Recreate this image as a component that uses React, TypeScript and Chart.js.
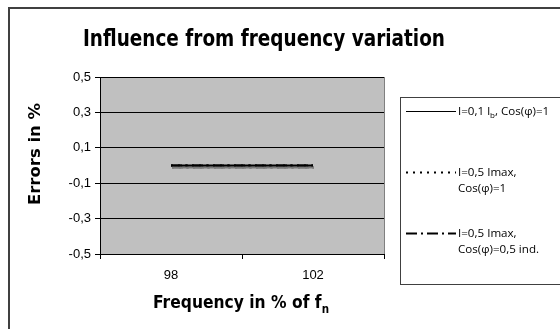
import React, { useEffect, useRef } from 'react';
import { Chart, registerables } from 'chart.js';
Chart.register(...registerables);

const categories = ['98', '102'];
const seriesA = [0, 0];
const seriesB = [0, 0];
const seriesC = [0, 0];
const seriesLabels = [
  ['I=0,1 l_b, Cos(φ)=1'],
  ['I=0,5 Imax,', 'Cos(φ)=1'],
  ['I=0,5 Imax,', 'Cos(φ)=0,5 ind.'],
];
const yTicks = [-0.5, -0.3, -0.1, 0.1, 0.3, 0.5];
const titleText = 'Influence from frequency variation';
const xTitleText = 'Frequency in % of f_n';
const yTitleText = 'Errors in %';

type Seg = { t: string; sub: boolean };
function parse(s: string): Seg[] {
  const out: Seg[] = [];
  let buf = '';
  for (let i = 0; i < s.length; i++) {
    if (s[i] === '_' && i + 1 < s.length) {
      if (buf) out.push({ t: buf, sub: false });
      buf = '';
      out.push({ t: s[i + 1], sub: true });
      i++;
    } else buf += s[i];
  }
  if (buf) out.push({ t: buf, sub: false });
  return out;
}

function measure(ctx: CanvasRenderingContext2D, segs: Seg[], font: string, subFont: string) {
  let w = 0;
  for (const s of segs) {
    ctx.font = s.sub ? subFont : font;
    w += ctx.measureText(s.t).width;
  }
  return w;
}

function drawRich(
  ctx: CanvasRenderingContext2D,
  text: string,
  x: number,
  y: number,
  size: number,
  weight: string,
  family: string,
  align: 'left' | 'center',
  targetWidth?: number,
  subDrop = 4
) {
  const segs = parse(text);
  const font = `${weight} ${size}px ${family}`;
  const subFont = `${weight} ${Math.round(size * 0.65)}px ${family}`;
  const w = measure(ctx, segs, font, subFont);
  const sx = targetWidth ? targetWidth / w : 1;
  ctx.save();
  ctx.translate(x, y);
  ctx.scale(sx, 1);
  ctx.textBaseline = 'alphabetic';
  ctx.textAlign = 'left';
  ctx.fillStyle = '#000';
  let cx = align === 'center' ? -w / 2 : 0;
  for (const s of segs) {
    ctx.font = s.sub ? subFont : font;
    ctx.fillText(s.t, cx, s.sub ? subDrop : 0);
    cx += ctx.measureText(s.t).width;
  }
  ctx.restore();
}

const dashes = [[], [2, 5], [11, 4, 2, 4]];

const decorPlugin = {
  id: 'decor',
  beforeDraw(chart: any) {
    const { ctx, chartArea: a } = chart;
    ctx.save();
    ctx.fillStyle = '#fff';
    ctx.fillRect(0, 0, chart.width, chart.height);
    ctx.fillStyle = '#C0C0C0';
    ctx.fillRect(a.left, a.top, a.right - a.left, a.bottom - a.top);
    ctx.strokeStyle = '#808080';
    ctx.lineWidth = 1;
    ctx.beginPath();
    ctx.moveTo(a.right + 0.5, a.top);
    ctx.lineTo(a.right + 0.5, a.bottom);
    ctx.stroke();
    ctx.restore();
  },
  beforeDatasetsDraw(chart: any) {
    const ctx = chart.ctx;
    ctx.save();
    ctx.shadowColor = '#7a7a7a';
    ctx.shadowOffsetX = 1;
    ctx.shadowOffsetY = 2;
    ctx.shadowBlur = 0;
  },
  afterDatasetsDraw(chart: any) {
    chart.ctx.restore();
  },
  afterDraw(chart: any) {
    const { ctx } = chart;
    ctx.save();
    // outer frame
    ctx.strokeStyle = '#404040';
    ctx.lineWidth = 2;
    ctx.strokeRect(9, 8, 600, 400);
    // titles
    drawRich(ctx, titleText, 264, 46, 23, 'bold', '"DejaVu Sans"', 'center', 362);
    drawRich(ctx, xTitleText, 241, 308, 18, 'bold', '"DejaVu Sans"', 'center', 176, 5);
    ctx.save();
    ctx.translate(40, 154);
    ctx.rotate(-Math.PI / 2);
    drawRich(ctx, yTitleText, 0, 0, 16, 'bold', '"DejaVu Sans"', 'center', 102);
    ctx.restore();
    // legend
    ctx.strokeStyle = '#404040';
    ctx.lineWidth = 1;
    ctx.strokeRect(400.5, 97.5, 200, 187);
    const rows = [111, 172, 233];
    chart.data.datasets.forEach((ds: any, i: number) => {
      const y = rows[i];
      ctx.save();
      ctx.strokeStyle = '#000';
      ctx.lineWidth = i === 0 ? 1 : 2;
      ctx.setLineDash(dashes[i]);
      ctx.beginPath();
      ctx.moveTo(406, y + 0.5);
      ctx.lineTo(456, y + 0.5);
      ctx.stroke();
      ctx.restore();
      const lines: string[] = seriesLabels[i];
      lines.forEach((ln, j) => {
        drawRich(ctx, ln, 458, y + 4 + j * 15.5, 11.6, 'normal', '"Open Sans"', 'left', undefined, 3);
      });
    });
    ctx.restore();
  },
};

export default function App() {
  const ref = useRef<HTMLCanvasElement>(null);
  useEffect(() => {
    if (!ref.current) return;
    const tickFont = { family: '"Liberation Sans", Arial', size: 13 };
    const chart = new Chart(ref.current, {
      type: 'line',
      data: {
        labels: categories,
        datasets: [seriesA, seriesB, seriesC].map((d, i) => ({
          label: seriesLabels[i].join(' '),
          data: d,
          borderColor: '#000',
          borderWidth: 2,
          borderDash: dashes[i],
          pointRadius: 0,
          fill: false,
          tension: 0,
        })),
      },
      options: {
        animation: false,
        responsive: false,
        devicePixelRatio: 1,
        layout: { padding: { top: 77, right: 176, left: 0, bottom: 0 } },
        plugins: { legend: { display: false }, title: { display: false }, tooltip: { enabled: false } },
        scales: {
          x: {
            type: 'category',
            offset: true,
            grid: { offset: true, drawOnChartArea: false, color: '#000', tickLength: 5 },
            border: { display: true, color: '#000' },
            ticks: { color: '#000', font: tickFont, padding: 9, maxRotation: 0 },
            afterFit: (s: any) => { s.height = 75; },
          },
          y: {
            min: -0.5,
            max: 0.5,
            afterBuildTicks: (s: any) => { s.ticks = yTicks.map((v) => ({ value: v })); },
            grid: { color: '#000', tickLength: 5 },
            border: { display: true, color: '#000' },
            ticks: {
              color: '#000',
              font: tickFont,
              padding: 4,
              callback: (v: any) => Number(v).toFixed(1).replace('.', ','),
            },
            afterFit: (s: any) => { s.width = 100; },
          },
        },
      },
      plugins: [decorPlugin],
    } as any);
    return () => chart.destroy();
  }, []);
  return (
    <div style={{ position: 'fixed', left: 0, top: 0, width: 560, height: 329 }}>
      <canvas ref={ref} width={560} height={329} style={{ display: 'block' }} />
    </div>
  );
}
